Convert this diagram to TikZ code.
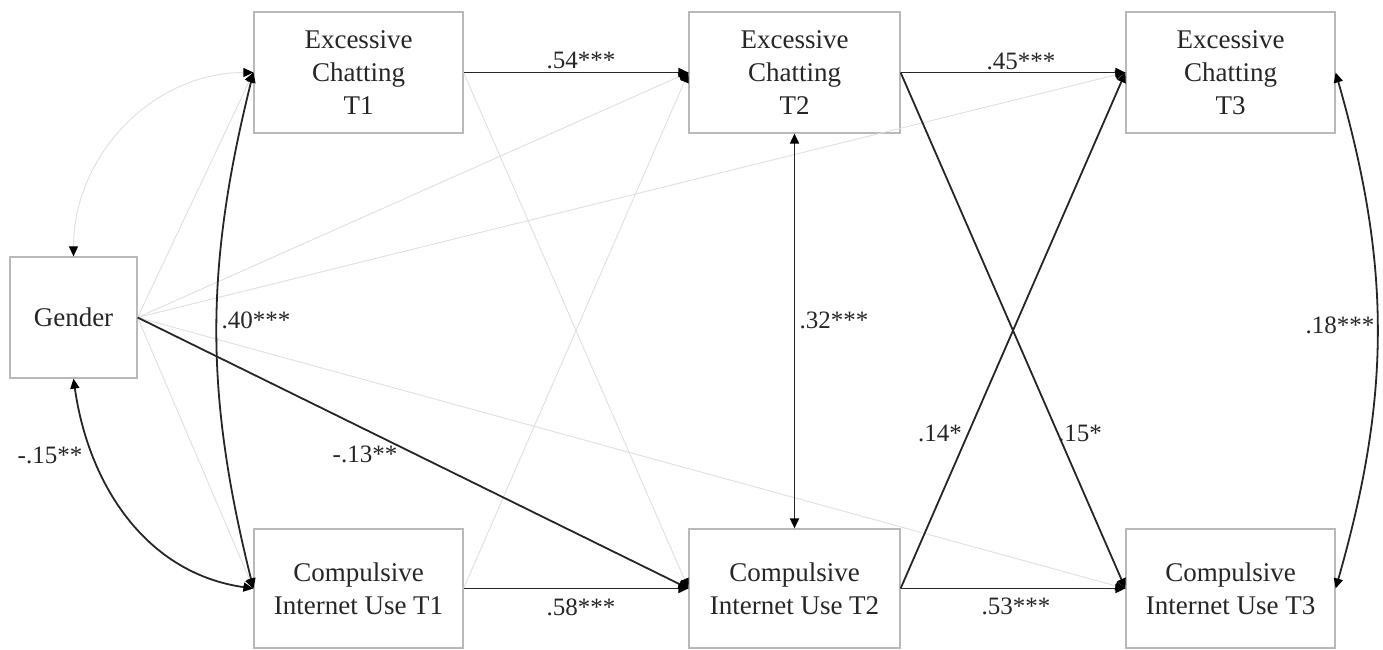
\documentclass[tikz,border=0pt]{standalone}
\usepackage{fontspec}
\setmainfont{Liberation Serif}
\usetikzlibrary{arrows.meta}
\begin{document}
\begin{tikzpicture}[x=1pt,y=1pt,
  box/.style={draw=gray!55, line width=1.2pt, rectangle, inner sep=0pt, align=center,
              text=black!85, font=\fontsize{27}{33}\selectfont},
  lab/.style={text=black!85, font=\fontsize{25}{30}\selectfont, inner sep=0pt},
  strong/.style={line width=1.8pt, black!85},
  faint/.style={line width=0.9pt, gray!25},
  tip/.style={-{Triangle[length=10pt,width=9pt,color=black]}},
  dtip/.style={{Triangle[length=10pt,width=9pt,color=black]}-{Triangle[length=10pt,width=9pt,color=black]}}]
\useasboundingbox (0,0) rectangle (1383,650);

% boxes
\node[box, minimum width=209pt, minimum height=121pt] (ec1) at (358.5,577.5) {Excessive\\Chatting\\T1};
\node[box, minimum width=211pt, minimum height=121pt] (ec2) at (794.5,577.5) {Excessive\\Chatting\\T2};
\node[box, minimum width=209pt, minimum height=121pt] (ec3) at (1230.5,577.5) {Excessive\\Chatting\\T3};
\node[box, minimum width=127pt, minimum height=121pt] (gender) at (73.5,332.5) {Gender};
\node[box, minimum width=209pt, minimum height=119pt] (ciu1) at (358.5,61.5) {Compulsive\\Internet Use T1};
\node[box, minimum width=211pt, minimum height=119pt] (ciu2) at (794.5,61.5) {Compulsive\\Internet Use T2};
\node[box, minimum width=209pt, minimum height=119pt] (ciu3) at (1230.5,61.5) {Compulsive\\Internet Use T3};

% faint (non-significant) paths
\draw[faint,dtip] (gender.north) to[out=90,in=180] (ec1.west);
\draw[faint,tip] (gender.east) -- (ec1.west);
\draw[faint,tip] (gender.east) -- (ciu1.west);
\draw[faint,tip] (gender.east) -- (ec2.west);
\draw[faint,tip] (gender.east) -- (ec3.west);
\draw[faint,tip] (gender.east) -- (ciu3.west);
\draw[faint,tip] (ec1.east) -- (ciu2.west);
\draw[faint,tip] (ciu1.east) -- (ec2.west);

% significant paths
\draw[strong,tip] (ec1.east) -- (ec2.west);
\draw[strong,tip] (ciu1.east) -- (ciu2.west);
\draw[strong,tip] (ec2.east) -- (ec3.west);
\draw[strong,tip] (ciu2.east) -- (ciu3.west);
\draw[strong,tip] (ec2.east) -- (ciu3.west);
\draw[strong,tip] (ciu2.east) -- (ec3.west);
\draw[strong,tip] (gender.east) -- (ciu2.west);

% correlations
\draw[strong,dtip] (ec2.south) -- (ciu2.north);
\draw[strong,dtip] (ec1.west) to[out=256,in=104] (ciu1.west);
\draw[strong,dtip] (gender.south) to[out=-82,in=172] (ciu1.west);
\draw[strong,dtip] (ec3.east) to[out=-74,in=74] (ciu3.east);

% labels
\node[lab] (l54) at (581,590) {.54***};
\node[lab] (l58) at (581,43) {.58***};
\node[lab] (l45) at (1021,589) {.45***};
\node[lab] (l53) at (1016,44) {.53***};
\node[lab] (l40) at (256,330) {.40***};
\node[lab] (l32) at (834,330) {.32***};
\node[lab] (l18) at (1340,325) {.18***};
\node[lab] (l14) at (940,217) {.14*};
\node[lab] (l15) at (1080,217) {.15*};
\node[lab] (l13) at (365,196) {-.13**};
\node[lab] (l15b) at (50,195) {-.15**};
\end{tikzpicture}
\end{document}
